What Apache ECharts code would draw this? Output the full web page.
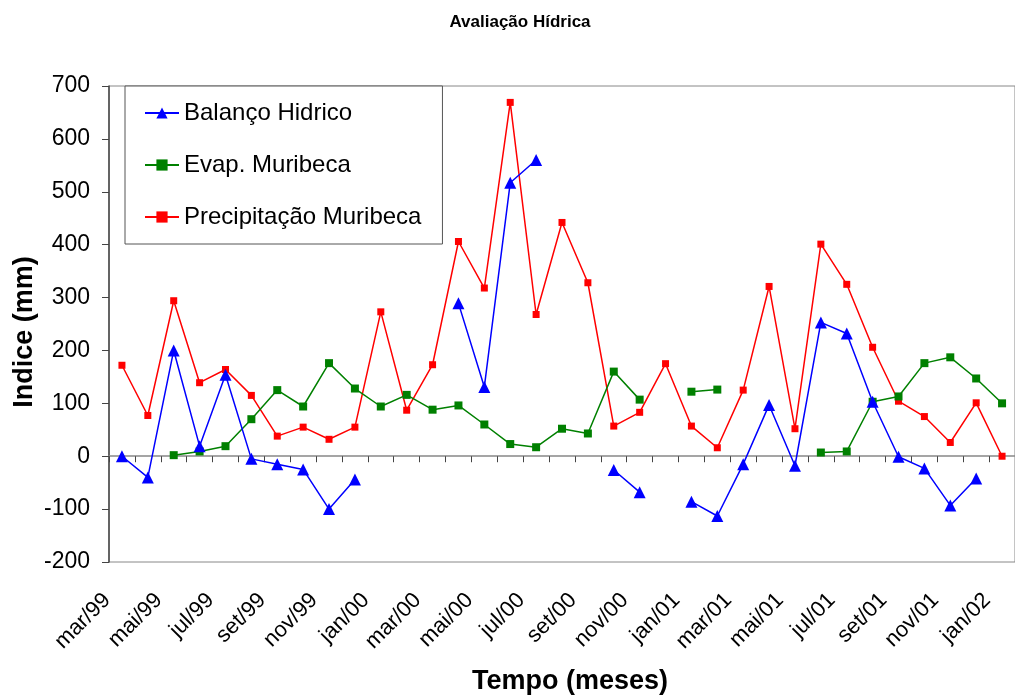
<!DOCTYPE html>
<html>
<head>
<meta charset="utf-8">
<script src="https://cdn.jsdelivr.net/npm/echarts@6/dist/echarts.min.js"></script>
<style>
html,body{margin:0;padding:0;background:#fff;}
#chart{width:1015px;height:696px;}
</style>
</head>
<body>
<div id="chart"></div>
<script>
const categories = ['mar/99','abr/99','mai/99','jun/99','jul/99','ago/99','set/99','out/99','nov/99','dez/99',
  'jan/00','fev/00','mar/00','abr/00','mai/00','jun/00','jul/00','ago/00','set/00','out/00','nov/00','dez/00',
  'jan/01','fev/01','mar/01','abr/01','mai/01','jun/01','jul/01','ago/01','set/01','out/01','nov/01','dez/01',
  'jan/02'];
const balanco = [0,-40,200,19,154,-5,-15,-25,-100,-44,
  null,null,null,289,131,517,560,null,null,-26,-68,null,
  -86,-113,-15,97,-18,253,232,103,-1,-23,-93,-42,
  null];
const evap = [null,null,2,9,19,70,125,94,176,128,
  94,116,88,96,60,23,17,52,43,160,107,null,
  122,126,null,null,null,7,9,103,113,176,187,147,
  100];
const precip = [172,77,294,139,164,115,38,55,32,55,
  273,87,173,406,318,669,268,442,328,57,83,175,
  57,16,125,321,52,401,325,206,104,75,26,101,
  0];
const yTicks = [-200,-100,0,100,200,300,400,500,600,700];

const chart = echarts.init(document.getElementById('chart'), null, {renderer:'canvas'});
const FONT = 'Liberation Sans, Arial, sans-serif';
const gridLeft = 109, gridTop = 86, gridW = 913, gridH = 476;

chart.setOption({
  animation:false,
  backgroundColor:'#fff',
  textStyle:{fontFamily:FONT},
  title:{
    text:'Avaliação Hídrica', left:515, top:9, textAlign:'center',
    textStyle:{fontFamily:FONT, fontSize:17, fontWeight:'bold', color:'#000'}
  },
  graphic:[
    {type:'text', x:570, y:682, style:{text:'Tempo (meses)', font:'bold 27px '+FONT, fill:'#000', align:'center', verticalAlign:'middle'}},
    {type:'text', x:25, y:332, rotation:Math.PI/2, style:{text:'Indice (mm)', font:'bold 27px '+FONT, fill:'#000', align:'center', verticalAlign:'middle'}}
  ],
  legend:{
    orient:'vertical', left:125, top:86,
    padding:[15,21,15,19], itemGap:28, itemWidth:34, itemHeight:14,
    borderColor:'#555', borderWidth:1, backgroundColor:'#fff',
    textStyle:{fontFamily:FONT, fontSize:24, color:'#000', lineHeight:24},
    data:['Balanço Hidrico','Evap. Muribeca','Precipitação Muribeca']
  },
  grid:{left:gridLeft, top:gridTop, width:gridW, height:gridH, show:true, borderColor:'#888', borderWidth:1, containLabel:false},
  xAxis:[
    {type:'category', data:categories, boundaryGap:true, position:'bottom',
      axisLine:{show:false, onZero:false}, axisTick:{show:false}, splitLine:{show:false},
      axisLabel:{interval:1, rotate:45, fontSize:22, color:'#000', fontFamily:FONT, margin:20, padding:[0,21,0,0]}},
    {type:'category', data:categories, boundaryGap:true, position:'bottom',
      axisLine:{show:true, onZero:true, lineStyle:{color:'#888', width:1.5}},
      axisTick:{show:true, inside:false, length:6, interval:0, lineStyle:{color:'#444', width:1}},
      axisLabel:{show:false}, splitLine:{show:false}}
  ],
  yAxis:{type:'value', min:-200, max:700, interval:100,
    axisLine:{show:true, lineStyle:{color:'#444', width:1.5}},
    axisTick:{show:true, inside:false, length:7, lineStyle:{color:'#444'}},
    splitLine:{show:false},
    axisLabel:{fontSize:23, color:'#000', fontFamily:FONT, margin:19,
      formatter:function(v){return yTicks.indexOf(v)>=0 ? String(v) : '';}}
  },
  series:[
    {name:'Balanço Hidrico', type:'line', data:balanco, xAxisIndex:0, connectNulls:false,
      symbol:'triangle', symbolSize:12, showAllSymbol:true,
      itemStyle:{color:'#0000FF'}, lineStyle:{color:'#0000FF', width:1.5}, z:4},
    {name:'Evap. Muribeca', type:'line', data:evap, xAxisIndex:0, connectNulls:false,
      symbol:'rect', symbolSize:8, showAllSymbol:true,
      itemStyle:{color:'#008000'}, lineStyle:{color:'#008000', width:1.5}, z:3},
    {name:'Precipitação Muribeca', type:'line', data:precip, xAxisIndex:0, connectNulls:false,
      symbol:'rect', symbolSize:7, showAllSymbol:true,
      itemStyle:{color:'#FF0000'}, lineStyle:{color:'#FF0000', width:1.5}, z:2}
  ]
});
</script>
</body>
</html>
